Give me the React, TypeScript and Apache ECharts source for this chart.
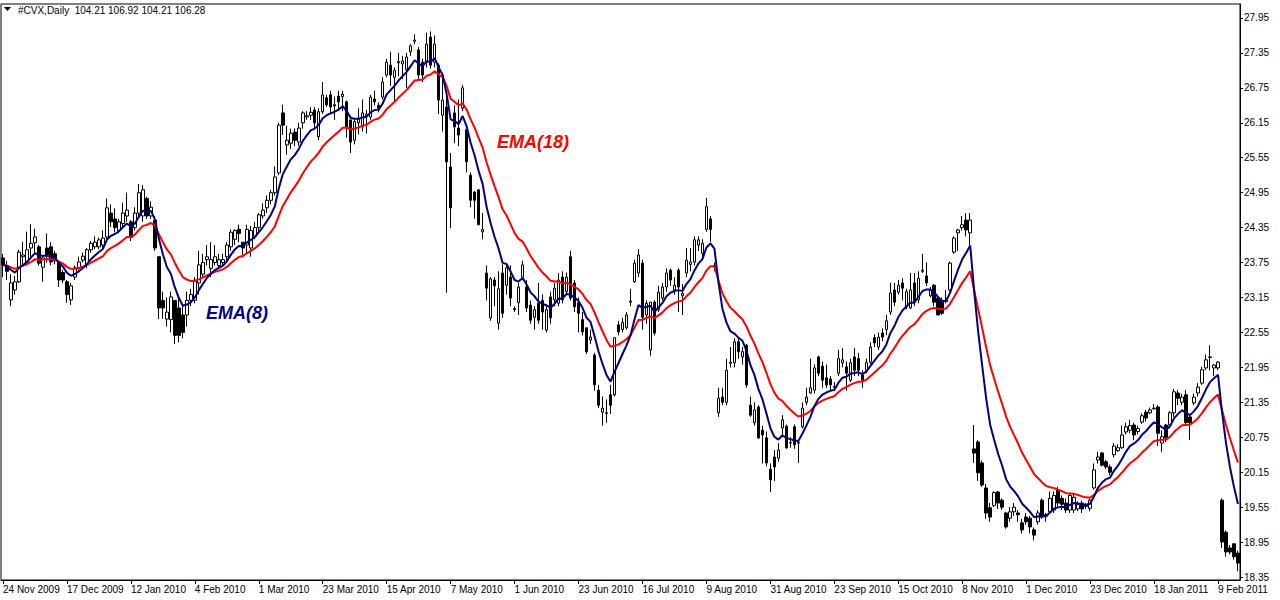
import React, { useEffect, useRef } from "react";
import * as echarts from "echarts";

const dateLabels = [
  "24 Nov 2009", "17 Dec 2009", "12 Jan 2010", "4 Feb 2010", "1 Mar 2010",
  "23 Mar 2010", "15 Apr 2010", "7 May 2010", "1 Jun 2010", "23 Jun 2010",
  "16 Jul 2010", "9 Aug 2010", "31 Aug 2010", "23 Sep 2010", "15 Oct 2010",
  "8 Nov 2010", "1 Dec 2010", "23 Dec 2010", "18 Jan 2011", "9 Feb 2011",
];

const priceTicks = [
  18.35, 18.95, 19.55, 20.15, 20.75, 21.35, 21.95, 22.55, 23.15,
  23.75, 24.35, 24.95, 25.55, 26.15, 26.75, 27.35, 27.95,
];

const opens = [
  23.83, 23.70, 23.11, 23.28, 23.42, 23.85, 23.74, 24.00, 24.09, 24.02,
  23.67, 24.00, 24.02, 23.90, 23.75, 23.58, 23.42, 23.11, 23.50, 23.66,
  23.79, 23.71, 23.97, 24.02, 24.02, 24.05, 24.19, 24.60, 24.50, 24.30,
  24.42, 24.55, 24.45, 24.35, 24.60, 24.55, 24.85, 24.55, 24.48, 23.85,
  23.10, 22.78, 22.77, 23.10, 22.97, 22.85, 22.85, 23.10, 23.10, 23.40,
  23.55, 23.80, 23.65, 23.75, 23.70, 23.75, 23.85, 24.02, 24.15, 24.32,
  24.10, 24.05, 24.00, 24.20, 24.35, 24.55, 24.69, 24.82, 24.95, 25.29,
  26.32, 25.77, 25.80, 25.99, 25.82, 26.15, 26.25, 26.28, 26.37, 25.91,
  26.34, 26.58, 26.63, 26.46, 26.61, 26.60, 26.51, 26.20, 25.85, 26.15,
  26.08, 26.27, 26.25, 26.56, 26.45, 26.59, 26.97, 27.14, 26.93, 27.18,
  27.16, 27.06, 27.37, 27.55, 27.40, 27.19, 27.19, 27.62, 27.19, 27.14,
  26.28, 26.42, 25.39, 26.32, 26.06, 26.40, 26.03, 25.25, 24.96, 25.00,
  24.28, 23.57, 22.80, 23.45, 22.71, 23.57, 23.36, 23.50, 22.96, 23.06,
  23.50, 23.33, 23.02, 22.81, 23.05, 23.10, 22.59, 23.16, 23.11, 23.05,
  23.50, 23.25, 23.85, 23.40, 23.06, 22.77, 22.63, 22.42, 22.16, 21.56,
  21.18, 21.17, 21.48, 21.48, 22.68, 22.60, 22.63, 23.07, 23.42, 23.57,
  23.74, 22.85, 22.25, 23.07, 22.94, 23.14, 23.33, 23.62, 23.28, 23.62,
  23.18, 23.57, 23.72, 23.76, 24.05, 23.91, 24.32, 24.50, 23.70, 21.17,
  21.44, 21.35, 22.02, 22.03, 22.39, 22.13, 22.33, 21.30, 21.00, 21.27,
  20.87, 20.74, 20.20, 20.41, 20.39, 20.91, 20.94, 20.66, 20.93, 20.66,
  20.93, 21.35, 21.51, 21.56, 22.13, 21.97, 21.77, 21.75, 21.60, 21.85,
  22.03, 21.96, 21.73, 22.13, 22.10, 21.82, 21.90, 22.04, 22.46, 22.30,
  22.54, 22.60, 22.90, 23.28, 23.24, 23.40, 23.00, 22.97, 23.40, 23.11,
  23.60, 23.52, 23.18, 23.36, 23.14, 23.10, 23.08, 23.28, 23.93, 24.26,
  24.35, 24.48, 24.26, 20.55, 20.67, 20.31, 19.88, 19.54, 19.58, 19.81,
  19.67, 19.45, 19.36, 19.47, 19.45, 19.28, 19.38, 19.36, 19.16, 19.30,
  19.67, 19.42, 19.47, 19.50, 19.84, 19.70, 19.62, 19.50, 19.50, 19.52,
  19.62, 19.56, 19.53, 19.88, 20.36, 20.48, 20.33, 20.24, 20.45, 20.52,
  20.57, 20.84, 20.87, 20.96, 20.85, 21.01, 21.18, 21.17, 21.24, 21.27,
  20.65, 20.96, 20.96, 21.17, 21.51, 21.35, 21.48, 21.10, 21.34, 21.51,
  21.68, 21.94, 22.12, 21.94, 21.94, 19.67, 19.12, 18.85, 18.92, 18.76,
];

const closes = [
  23.71, 23.60, 23.40, 23.42, 23.93, 23.88, 23.97, 24.08, 24.19, 23.74,
  23.83, 23.88, 23.76, 23.78, 23.45, 23.45, 23.20, 23.35, 23.66, 23.76,
  23.86, 23.97, 24.08, 24.10, 24.14, 24.17, 24.69, 24.45, 24.35, 24.45,
  24.60, 24.65, 24.18, 24.60, 24.95, 25.00, 24.55, 24.70, 24.00, 22.97,
  22.97, 22.90, 23.16, 22.50, 22.50, 22.55, 23.10, 23.20, 23.45, 23.71,
  23.75, 23.85, 23.80, 23.85, 23.80, 23.80, 24.05, 24.27, 24.30, 24.25,
  24.00, 24.32, 24.30, 24.35, 24.57, 24.65, 24.82, 24.95, 25.22, 26.11,
  26.11, 25.85, 25.97, 25.85, 26.06, 26.32, 26.27, 26.33, 26.15, 26.34,
  26.63, 26.46, 26.42, 26.44, 26.51, 26.64, 26.06, 25.82, 26.17, 26.22,
  26.32, 26.30, 26.59, 26.51, 26.40, 26.85, 27.19, 26.97, 27.05, 27.20,
  27.21, 27.28, 27.47, 27.57, 26.97, 26.97, 27.50, 27.14, 27.50, 26.54,
  26.54, 25.48, 24.69, 26.08, 25.94, 26.75, 25.48, 24.82, 24.82, 24.40,
  24.32, 23.31, 23.47, 23.35, 23.30, 22.88, 23.66, 23.14, 22.94, 23.33,
  23.71, 22.97, 22.76, 22.94, 22.76, 22.90, 22.94, 22.80, 23.31, 23.45,
  23.11, 23.50, 23.14, 22.99, 22.88, 22.56, 22.22, 22.47, 21.65, 21.30,
  21.25, 21.16, 21.30, 22.46, 22.56, 22.72, 22.85, 23.09, 23.74, 23.88,
  22.81, 23.05, 23.07, 22.54, 23.24, 23.33, 23.57, 23.45, 23.36, 23.33,
  23.22, 23.79, 23.76, 24.14, 24.14, 24.08, 24.71, 24.32, 23.67, 21.42,
  21.35, 21.90, 22.04, 22.39, 22.22, 22.22, 21.65, 21.13, 21.22, 20.74,
  20.79, 20.31, 20.02, 20.24, 20.53, 21.05, 20.57, 20.65, 20.62, 20.65,
  21.25, 21.44, 21.60, 21.94, 21.85, 21.73, 21.65, 21.65, 21.62, 22.10,
  22.08, 21.85, 22.03, 21.90, 21.90, 21.73, 22.03, 22.30, 22.37, 22.47,
  22.47, 22.75, 23.23, 23.07, 23.36, 23.31, 23.25, 23.28, 23.07, 23.48,
  23.62, 23.40, 23.28, 23.07, 22.85, 22.88, 23.10, 23.74, 24.17, 24.31,
  24.40, 24.31, 24.48, 20.48, 20.14, 19.93, 19.45, 19.38, 19.80, 19.62,
  19.55, 19.21, 19.47, 19.55, 19.42, 19.16, 19.30, 19.21, 19.07, 19.45,
  19.38, 19.40, 19.70, 19.75, 19.62, 19.60, 19.50, 19.75, 19.72, 19.60,
  19.52, 19.58, 19.67, 20.19, 20.41, 20.27, 20.24, 20.15, 20.60, 20.57,
  20.79, 20.93, 20.95, 20.79, 20.90, 21.12, 21.08, 21.22, 21.25, 20.82,
  20.76, 20.74, 21.17, 21.53, 21.42, 21.44, 21.00, 21.00, 21.44, 21.61,
  21.91, 22.08, 22.13, 21.99, 22.04, 18.95, 18.78, 18.78, 18.70, 18.59,
];

const highs = [
  23.90, 23.78, 23.55, 23.52, 23.97, 24.11, 24.28, 24.41, 24.33, 24.05,
  23.88, 24.25, 24.10, 23.95, 23.78, 23.62, 23.45, 23.40, 23.70, 23.85,
  23.92, 24.00, 24.12, 24.20, 24.18, 24.30, 24.85, 24.75, 24.68, 24.50,
  24.78, 24.95, 24.48, 24.70, 25.10, 25.08, 24.88, 24.80, 24.55, 23.85,
  23.25, 23.15, 23.25, 23.10, 23.20, 23.00, 23.25, 23.30, 23.50, 23.95,
  23.90, 24.05, 24.10, 24.05, 23.90, 23.90, 24.10, 24.32, 24.32, 24.40,
  24.10, 24.40, 24.38, 24.45, 24.60, 24.77, 24.90, 25.00, 25.40, 26.15,
  26.46, 26.10, 26.05, 26.05, 26.15, 26.35, 26.35, 26.42, 26.42, 26.40,
  26.85, 26.63, 26.70, 26.60, 26.70, 26.70, 26.53, 26.20, 26.22, 26.40,
  26.55, 26.37, 26.63, 26.70, 26.50, 26.93, 27.25, 27.37, 27.10, 27.35,
  27.30, 27.35, 27.50, 27.67, 27.45, 27.25, 27.70, 27.72, 27.65, 27.17,
  26.95, 26.58, 25.63, 26.45, 26.55, 26.80, 26.03, 25.30, 24.98, 25.00,
  24.60, 23.70, 23.50, 23.50, 23.60, 23.72, 23.70, 23.70, 23.00, 23.40,
  23.78, 23.45, 23.10, 23.00, 23.40, 23.20, 23.00, 23.25, 23.40, 23.57,
  23.60, 23.58, 23.95, 23.45, 23.15, 22.90, 22.63, 22.60, 22.20, 21.65,
  21.45, 21.40, 21.65, 22.47, 22.75, 22.80, 22.90, 23.30, 23.80, 23.98,
  23.80, 23.10, 23.07, 23.10, 23.35, 23.40, 23.65, 23.65, 23.50, 23.65,
  23.38, 24.00, 24.00, 24.20, 24.20, 24.15, 24.86, 24.55, 23.75, 21.60,
  21.60, 22.10, 22.30, 22.45, 22.45, 22.30, 22.35, 21.45, 21.35, 21.30,
  20.95, 20.85, 20.30, 20.53, 20.65, 21.13, 20.97, 20.75, 20.97, 20.70,
  21.35, 21.60, 22.10, 22.00, 22.15, 22.05, 22.00, 21.80, 21.70, 22.25,
  22.28, 22.05, 22.10, 22.28, 22.20, 21.90, 22.10, 22.38, 22.52, 22.55,
  22.62, 22.85, 23.40, 23.40, 23.45, 23.48, 23.30, 23.57, 23.57, 23.60,
  23.90, 23.75, 23.33, 23.38, 23.20, 23.15, 23.28, 23.77, 24.20, 24.33,
  24.55, 24.60, 24.60, 20.96, 20.70, 20.35, 19.95, 19.62, 19.82, 19.83,
  19.70, 19.47, 19.55, 19.62, 19.50, 19.35, 19.45, 19.40, 19.20, 19.50,
  19.70, 19.45, 19.82, 19.82, 19.90, 19.75, 19.70, 19.80, 19.78, 19.65,
  19.66, 19.62, 19.70, 20.30, 20.50, 20.50, 20.36, 20.28, 20.65, 20.63,
  20.95, 21.00, 21.05, 21.00, 20.95, 21.16, 21.22, 21.26, 21.32, 21.30,
  20.87, 20.98, 21.20, 21.58, 21.56, 21.50, 21.56, 21.15, 21.50, 21.68,
  21.96, 22.17, 22.33, 22.01, 22.06, 19.70, 19.15, 18.90, 18.93, 18.80,
];

const lows = [
  23.50, 23.45, 23.00, 23.20, 23.40, 23.68, 23.70, 23.85, 23.90, 23.70,
  23.42, 23.75, 23.70, 23.72, 23.33, 23.40, 23.06, 23.02, 23.45, 23.60,
  23.75, 23.65, 23.92, 23.98, 23.98, 24.00, 24.15, 24.36, 24.27, 24.25,
  24.35, 24.45, 24.12, 24.30, 24.55, 24.45, 24.50, 24.50, 23.95, 22.78,
  22.78, 22.65, 22.55, 22.35, 22.38, 22.45, 22.65, 23.00, 23.05, 23.20,
  23.50, 23.70, 23.50, 23.70, 23.65, 23.70, 23.75, 23.95, 24.05, 24.10,
  23.85, 23.90, 23.85, 24.15, 24.25, 24.50, 24.60, 24.75, 24.90, 25.25,
  25.94, 25.60, 25.70, 25.75, 25.75, 26.05, 26.20, 26.20, 26.05, 25.85,
  26.30, 26.42, 26.30, 26.20, 26.35, 26.35, 25.90, 25.63, 25.78, 25.95,
  26.00, 25.97, 26.20, 26.45, 26.33, 26.55, 26.93, 26.78, 26.50, 26.95,
  26.90, 26.75, 27.30, 27.50, 26.90, 26.85, 27.10, 27.08, 27.10, 26.30,
  26.00, 23.23, 24.34, 25.80, 25.75, 26.35, 25.30, 24.70, 24.50, 24.40,
  24.15, 23.10, 22.75, 23.00, 22.60, 22.80, 23.20, 23.00, 22.90, 22.85,
  23.45, 22.90, 22.70, 22.60, 22.70, 22.60, 22.55, 22.70, 23.00, 23.00,
  23.05, 23.20, 23.10, 22.90, 22.55, 22.50, 22.18, 22.35, 21.55, 21.25,
  20.95, 21.00, 21.15, 21.45, 22.50, 22.55, 22.60, 23.00, 23.40, 23.50,
  22.60, 22.70, 22.15, 22.50, 22.90, 23.10, 23.25, 23.35, 23.20, 22.90,
  22.85, 23.50, 23.60, 23.70, 23.95, 23.85, 24.28, 24.10, 23.60, 21.10,
  21.30, 21.30, 21.95, 21.95, 22.10, 22.00, 21.60, 21.10, 20.95, 20.72,
  20.30, 20.25, 19.81, 20.00, 20.33, 20.75, 20.55, 20.57, 20.55, 20.31,
  20.90, 21.30, 21.50, 21.50, 21.80, 21.60, 21.60, 21.55, 21.55, 21.80,
  21.95, 21.55, 21.70, 21.80, 21.80, 21.60, 21.85, 22.00, 22.30, 22.25,
  22.40, 22.50, 22.85, 23.00, 23.20, 23.10, 22.95, 22.95, 23.00, 23.05,
  23.57, 23.35, 23.15, 23.00, 22.85, 22.85, 23.05, 23.25, 23.90, 23.95,
  24.30, 24.20, 24.05, 20.31, 20.00, 19.90, 19.35, 19.30, 19.55, 19.52,
  19.50, 19.18, 19.30, 19.40, 19.30, 19.10, 19.25, 19.10, 18.98, 19.25,
  19.35, 19.30, 19.45, 19.45, 19.55, 19.50, 19.45, 19.45, 19.45, 19.48,
  19.45, 19.52, 19.48, 19.85, 20.30, 20.25, 20.20, 20.10, 20.40, 20.50,
  20.55, 20.80, 20.82, 20.70, 20.80, 20.98, 21.02, 21.15, 21.22, 20.60,
  20.50, 20.67, 20.90, 21.10, 21.30, 21.30, 20.95, 20.70, 21.30, 21.45,
  21.65, 21.90, 21.90, 21.80, 21.90, 18.85, 18.70, 18.74, 18.65, 18.45,
];

const titleText = "#CVX,Daily  104.21 106.92 104.21 106.28";
const fastPeriod = 8;
const slowPeriod = 18;

function ema(values: number[], period: number): number[] {
  const k = 2 / (period + 1);
  const out: number[] = [];
  let prev = values[0];
  values.forEach((v, i) => {
    prev = i === 0 ? v : v * k + prev * (1 - k);
    out.push(+prev.toFixed(4));
  });
  return out;
}

const FONT = "'Liberation Sans', Arial, sans-serif";

export default function App() {
  const ref = useRef<HTMLDivElement>(null);

  useEffect(() => {
    if (!ref.current) return;
    const chart = echarts.init(ref.current, null, { renderer: "svg" });
    const cats = closes.map((_, i) => String(i));
    const candles = closes.map((c, i) => [opens[i], c, lows[i], highs[i]]);
    const emaFast = ema(closes, fastPeriod);
    const emaSlow = ema(closes, slowPeriod);

    chart.setOption({
      animation: false,
      backgroundColor: "#ffffff",
      grid: {
        left: 1,
        top: 4,
        width: 1239,
        height: 576,
        show: true,
        borderColor: "#000000",
        borderWidth: 1,
        backgroundColor: "#ffffff",
      },
      xAxis: {
        type: "category",
        data: cats,
        boundaryGap: true,
        axisLine: { show: true, lineStyle: { color: "#000000", width: 1 } },
        axisTick: {
          show: true,
          interval: 15,
          alignWithLabel: true,
          length: 4,
          lineStyle: { color: "#000000" },
        },
        axisLabel: {
          interval: 15,
          align: "left",
          margin: 4,
          color: "#000000",
          fontSize: 10,
          fontFamily: FONT,
          formatter: (_v: string, idx: number) =>
            idx % 16 === 0 ? dateLabels[idx / 16] ?? "" : "",
        },
        splitLine: { show: false },
      },
      yAxis: {
        type: "value",
        position: "right",
        min: 18.299,
        max: 28.19,
        axisLine: { show: true, lineStyle: { color: "#000000", width: 1 } },
        axisTick: {
          show: true,
          customValues: priceTicks,
          length: 3,
          lineStyle: { color: "#000000" },
        },
        axisLabel: {
          customValues: priceTicks,
          margin: 4,
          color: "#000000",
          fontSize: 10,
          fontFamily: FONT,
          formatter: (v: number) => v.toFixed(2),
        },
        splitLine: { show: false },
      },
      series: [
        {
          type: "candlestick",
          data: candles,
          barWidth: 3,
          itemStyle: {
            color: "#ffffff",
            color0: "#000000",
            borderColor: "#000000",
            borderColor0: "#000000",
            borderWidth: 1,
          },
        },
        {
          type: "line",
          name: "EMA(18)",
          data: emaSlow,
          showSymbol: false,
          symbol: "none",
          lineStyle: { color: "#ff0000", width: 2 },
        },
        {
          type: "line",
          name: "EMA(8)",
          data: emaFast,
          showSymbol: false,
          symbol: "none",
          lineStyle: { color: "#000080", width: 2 },
        },
      ],
      graphic: [
        {
          type: "polygon",
          shape: { points: [[4, 7], [11, 7], [7.5, 11]] },
          style: { fill: "#000000" },
          z: 100,
        },
        {
          type: "text",
          x: 18,
          y: 10,
          z: 100,
          style: {
            text: titleText,
            fill: "#000000",
            fontSize: 10,
            fontFamily: FONT,
            verticalAlign: "middle",
          },
        },
        {
          type: "text",
          x: 206,
          y: 313,
          z: 100,
          style: {
            text: "EMA(8)",
            fill: "#000080",
            fontSize: 18,
            fontWeight: "bold",
            fontStyle: "italic",
            fontFamily: FONT,
            verticalAlign: "middle",
          },
        },
        {
          type: "text",
          x: 497,
          y: 142,
          z: 100,
          style: {
            text: "EMA(18)",
            fill: "#ff0000",
            fontSize: 18,
            fontWeight: "bold",
            fontStyle: "italic",
            fontFamily: FONT,
            verticalAlign: "middle",
          },
        },
      ],
    });

    return () => chart.dispose();
  }, []);

  return (
    <div
      ref={ref}
      style={{ position: "fixed", left: 0, top: 0, width: 1280, height: 600 }}
    />
  );
}
